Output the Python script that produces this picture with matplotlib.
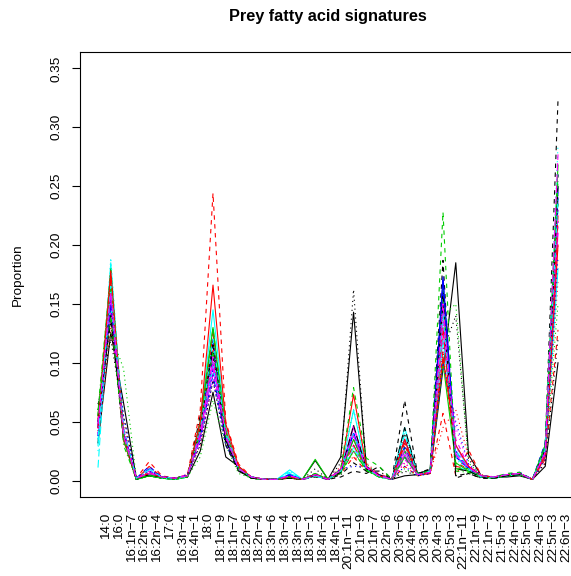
"""
Fatty acid signatures of prey samples drawn as overlaid profiles,
one line per sample, across the fatty acid sequence.
"""
import matplotlib
matplotlib.use("Agg")
import matplotlib.pyplot as plt
from matplotlib.transforms import ScaledTranslation

plt.rcParams["font.family"] = ["Liberation Sans", "DejaVu Sans"]

fatty_acids = ["14:0", "16:0", "16:1n−7", "16:2n−6", "16:2n−4", "17:0", "16:3n−4",
               "16:4n−1", "18:0", "18:1n−9", "18:1n−7", "18:2n−6", "18:2n−4",
               "18:3n−6", "18:3n−4", "18:3n−3", "18:3n−1", "18:4n−3", "18:4n−1",
               "20:1n−11", "20:1n−9", "20:1n−7", "20:2n−6", "20:3n−6", "20:4n−6",
               "20:3n−3", "20:4n−3", "20:5n−3", "22:1n−11", "22:1n−9", "22:1n−7",
               "21:5n−3", "22:4n−6", "22:5n−6", "22:4n−3", "22:5n−3", "22:6n−3"]

# one list per prey sample, same order as fatty_acids
p01 = [0.032, 0.126, 0.066, 0.002, 0.004, 0.003, 0.002, 0.003, 0.025, 0.075, 0.020, 0.012, 0.002,
       0.001, 0.001, 0.002, 0.001, 0.017, 0.001, 0.020, 0.143, 0.012, 0.004, 0.001, 0.004, 0.005,
       0.006, 0.095, 0.185, 0.022, 0.004, 0.003, 0.003, 0.004, 0.001, 0.012, 0.100]
p02 = [0.045, 0.140, 0.035, 0.002, 0.016, 0.004, 0.002, 0.005, 0.060, 0.244, 0.050, 0.014, 0.003,
       0.001, 0.001, 0.002, 0.001, 0.004, 0.001, 0.006, 0.020, 0.008, 0.006, 0.001, 0.012, 0.004,
       0.006, 0.057, 0.004, 0.026, 0.004, 0.003, 0.004, 0.005, 0.001, 0.018, 0.128]
p03 = [0.050, 0.125, 0.095, 0.002, 0.005, 0.003, 0.002, 0.003, 0.020, 0.068, 0.030, 0.006, 0.002,
       0.001, 0.001, 0.002, 0.001, 0.006, 0.001, 0.010, 0.060, 0.014, 0.004, 0.001, 0.010, 0.004,
       0.007, 0.140, 0.150, 0.015, 0.004, 0.003, 0.004, 0.005, 0.001, 0.020, 0.150]
p04 = [0.040, 0.160, 0.040, 0.001, 0.008, 0.003, 0.002, 0.004, 0.035, 0.095, 0.035, 0.010, 0.003,
       0.001, 0.001, 0.004, 0.001, 0.005, 0.001, 0.008, 0.035, 0.010, 0.004, 0.001, 0.025, 0.005,
       0.008, 0.150, 0.030, 0.010, 0.003, 0.003, 0.005, 0.006, 0.001, 0.022, 0.220]
p05 = [0.011, 0.170, 0.045, 0.001, 0.006, 0.002, 0.001, 0.003, 0.045, 0.110, 0.040, 0.011, 0.002,
       0.001, 0.001, 0.006, 0.001, 0.004, 0.001, 0.007, 0.028, 0.009, 0.003, 0.001, 0.030, 0.006,
       0.007, 0.160, 0.012, 0.008, 0.003, 0.002, 0.004, 0.005, 0.001, 0.025, 0.230]
p06 = [0.045, 0.150, 0.035, 0.002, 0.005, 0.003, 0.002, 0.004, 0.040, 0.100, 0.038, 0.010, 0.003,
       0.001, 0.001, 0.003, 0.001, 0.005, 0.001, 0.009, 0.045, 0.011, 0.004, 0.001, 0.022, 0.005,
       0.007, 0.130, 0.020, 0.012, 0.004, 0.003, 0.005, 0.006, 0.001, 0.020, 0.210]
p07 = [0.055, 0.145, 0.035, 0.001, 0.004, 0.002, 0.001, 0.003, 0.045, 0.105, 0.030, 0.008, 0.002,
       0.001, 0.001, 0.002, 0.001, 0.003, 0.001, 0.003, 0.008, 0.006, 0.012, 0.001, 0.068, 0.006,
       0.010, 0.187, 0.002, 0.006, 0.002, 0.002, 0.004, 0.005, 0.001, 0.030, 0.323]
p08 = [0.035, 0.130, 0.050, 0.002, 0.007, 0.003, 0.002, 0.005, 0.030, 0.085, 0.040, 0.012, 0.003,
       0.001, 0.001, 0.003, 0.001, 0.006, 0.001, 0.012, 0.020, 0.015, 0.005, 0.001, 0.015, 0.004,
       0.006, 0.045, 0.060, 0.020, 0.005, 0.003, 0.005, 0.006, 0.001, 0.015, 0.170]
p09 = [0.060, 0.175, 0.030, 0.001, 0.004, 0.002, 0.001, 0.003, 0.050, 0.120, 0.045, 0.009, 0.002,
       0.001, 0.001, 0.003, 0.001, 0.004, 0.001, 0.006, 0.025, 0.008, 0.003, 0.001, 0.028, 0.006,
       0.008, 0.155, 0.008, 0.007, 0.003, 0.002, 0.004, 0.005, 0.001, 0.025, 0.240]
p10 = [0.038, 0.155, 0.040, 0.001, 0.010, 0.003, 0.002, 0.004, 0.038, 0.090, 0.034, 0.010, 0.003,
       0.001, 0.001, 0.005, 0.001, 0.005, 0.001, 0.008, 0.040, 0.010, 0.004, 0.001, 0.020, 0.005,
       0.007, 0.170, 0.025, 0.010, 0.004, 0.003, 0.005, 0.006, 0.001, 0.028, 0.250]
p11 = [0.030, 0.185, 0.038, 0.001, 0.005, 0.002, 0.001, 0.003, 0.050, 0.145, 0.045, 0.011, 0.003,
       0.001, 0.001, 0.009, 0.001, 0.004, 0.001, 0.007, 0.060, 0.010, 0.003, 0.001, 0.045, 0.006,
       0.008, 0.120, 0.030, 0.010, 0.003, 0.002, 0.004, 0.005, 0.001, 0.020, 0.180]
p12 = [0.050, 0.140, 0.042, 0.002, 0.008, 0.003, 0.002, 0.005, 0.035, 0.095, 0.036, 0.010, 0.003,
       0.001, 0.001, 0.004, 0.001, 0.005, 0.001, 0.010, 0.030, 0.012, 0.005, 0.001, 0.018, 0.005,
       0.007, 0.140, 0.035, 0.012, 0.004, 0.003, 0.005, 0.006, 0.001, 0.022, 0.215]
p13 = [0.065, 0.120, 0.055, 0.002, 0.004, 0.003, 0.002, 0.004, 0.030, 0.085, 0.030, 0.010, 0.002,
       0.001, 0.001, 0.002, 0.001, 0.010, 0.001, 0.015, 0.162, 0.010, 0.004, 0.001, 0.008, 0.004,
       0.006, 0.110, 0.140, 0.018, 0.004, 0.003, 0.004, 0.005, 0.001, 0.015, 0.120]
p14 = [0.042, 0.165, 0.036, 0.001, 0.006, 0.003, 0.002, 0.004, 0.042, 0.115, 0.040, 0.010, 0.003,
       0.001, 0.001, 0.003, 0.001, 0.005, 0.001, 0.008, 0.035, 0.010, 0.004, 0.001, 0.030, 0.005,
       0.008, 0.110, 0.015, 0.010, 0.003, 0.003, 0.005, 0.006, 0.001, 0.022, 0.222]
p15 = [0.055, 0.180, 0.040, 0.001, 0.004, 0.002, 0.001, 0.003, 0.048, 0.130, 0.042, 0.009, 0.002,
       0.001, 0.001, 0.003, 0.001, 0.006, 0.001, 0.007, 0.025, 0.009, 0.003, 0.001, 0.025, 0.005,
       0.008, 0.165, 0.010, 0.008, 0.003, 0.002, 0.004, 0.005, 0.001, 0.026, 0.235]
p16 = [0.048, 0.160, 0.038, 0.001, 0.006, 0.003, 0.002, 0.004, 0.040, 0.120, 0.038, 0.010, 0.003,
       0.001, 0.001, 0.004, 0.001, 0.005, 0.001, 0.008, 0.040, 0.010, 0.004, 0.001, 0.035, 0.005,
       0.008, 0.173, 0.020, 0.010, 0.003, 0.003, 0.005, 0.006, 0.001, 0.024, 0.240]
p17 = [0.035, 0.150, 0.040, 0.002, 0.010, 0.003, 0.002, 0.004, 0.040, 0.097, 0.038, 0.010, 0.003,
       0.001, 0.001, 0.007, 0.001, 0.005, 0.001, 0.009, 0.030, 0.011, 0.004, 0.001, 0.025, 0.005,
       0.007, 0.150, 0.025, 0.011, 0.004, 0.003, 0.005, 0.006, 0.001, 0.030, 0.260]
p18 = [0.040, 0.145, 0.045, 0.002, 0.006, 0.003, 0.002, 0.004, 0.035, 0.090, 0.035, 0.010, 0.003,
       0.001, 0.001, 0.003, 0.001, 0.005, 0.001, 0.010, 0.025, 0.012, 0.005, 0.001, 0.015, 0.005,
       0.007, 0.120, 0.045, 0.013, 0.004, 0.003, 0.005, 0.006, 0.001, 0.020, 0.200]
p19 = [0.060, 0.135, 0.040, 0.001, 0.004, 0.002, 0.001, 0.003, 0.055, 0.110, 0.032, 0.008, 0.002,
       0.001, 0.001, 0.002, 0.001, 0.004, 0.001, 0.005, 0.015, 0.008, 0.008, 0.001, 0.040, 0.006,
       0.009, 0.160, 0.004, 0.006, 0.002, 0.002, 0.004, 0.005, 0.001, 0.028, 0.260]
p20 = [0.052, 0.170, 0.034, 0.001, 0.012, 0.003, 0.002, 0.004, 0.045, 0.125, 0.042, 0.011, 0.003,
       0.001, 0.001, 0.003, 0.001, 0.005, 0.001, 0.008, 0.030, 0.010, 0.004, 0.001, 0.032, 0.005,
       0.008, 0.130, 0.012, 0.010, 0.003, 0.003, 0.005, 0.006, 0.001, 0.024, 0.225]
p21 = [0.055, 0.165, 0.035, 0.001, 0.004, 0.002, 0.001, 0.003, 0.050, 0.130, 0.040, 0.010, 0.002,
       0.001, 0.001, 0.003, 0.001, 0.018, 0.001, 0.007, 0.035, 0.009, 0.003, 0.001, 0.020, 0.005,
       0.008, 0.100, 0.015, 0.008, 0.003, 0.002, 0.004, 0.005, 0.001, 0.030, 0.268]
p22 = [0.045, 0.150, 0.042, 0.002, 0.012, 0.003, 0.002, 0.004, 0.038, 0.105, 0.036, 0.010, 0.003,
       0.001, 0.001, 0.005, 0.001, 0.005, 0.001, 0.009, 0.040, 0.011, 0.004, 0.001, 0.028, 0.005,
       0.007, 0.165, 0.022, 0.011, 0.004, 0.003, 0.005, 0.007, 0.001, 0.032, 0.245]
p23 = [0.025, 0.189, 0.040, 0.001, 0.006, 0.002, 0.001, 0.003, 0.045, 0.100, 0.040, 0.010, 0.003,
       0.001, 0.001, 0.006, 0.001, 0.004, 0.001, 0.008, 0.028, 0.010, 0.003, 0.001, 0.038, 0.005,
       0.008, 0.145, 0.018, 0.009, 0.003, 0.002, 0.004, 0.005, 0.001, 0.028, 0.285]
p24 = [0.040, 0.155, 0.040, 0.002, 0.007, 0.003, 0.002, 0.004, 0.038, 0.100, 0.038, 0.010, 0.003,
       0.001, 0.001, 0.004, 0.001, 0.005, 0.001, 0.009, 0.047, 0.011, 0.004, 0.001, 0.022, 0.005,
       0.007, 0.135, 0.028, 0.012, 0.004, 0.003, 0.005, 0.006, 0.001, 0.022, 0.230]
p25 = [0.050, 0.140, 0.038, 0.001, 0.005, 0.003, 0.002, 0.004, 0.042, 0.115, 0.034, 0.009, 0.002,
       0.001, 0.001, 0.003, 0.001, 0.005, 0.001, 0.007, 0.047, 0.010, 0.005, 0.001, 0.045, 0.006,
       0.009, 0.150, 0.010, 0.008, 0.003, 0.002, 0.004, 0.005, 0.001, 0.026, 0.250]
p26 = [0.045, 0.178, 0.038, 0.002, 0.006, 0.003, 0.002, 0.004, 0.050, 0.166, 0.048, 0.012, 0.003,
       0.001, 0.001, 0.003, 0.001, 0.005, 0.001, 0.009, 0.073, 0.012, 0.004, 0.001, 0.035, 0.005,
       0.007, 0.105, 0.030, 0.012, 0.004, 0.003, 0.005, 0.006, 0.001, 0.020, 0.200]
p27 = [0.060, 0.140, 0.036, 0.001, 0.005, 0.003, 0.002, 0.004, 0.040, 0.110, 0.038, 0.010, 0.003,
       0.001, 0.001, 0.003, 0.001, 0.006, 0.001, 0.010, 0.079, 0.019, 0.012, 0.001, 0.025, 0.006,
       0.008, 0.228, 0.010, 0.010, 0.004, 0.003, 0.006, 0.007, 0.001, 0.030, 0.255]
p28 = [0.038, 0.150, 0.055, 0.002, 0.008, 0.003, 0.002, 0.005, 0.032, 0.085, 0.030, 0.010, 0.003,
       0.001, 0.001, 0.004, 0.001, 0.005, 0.001, 0.010, 0.012, 0.012, 0.005, 0.001, 0.012, 0.004,
       0.006, 0.100, 0.050, 0.014, 0.004, 0.003, 0.005, 0.006, 0.001, 0.018, 0.190]
p29 = [0.035, 0.165, 0.042, 0.002, 0.009, 0.003, 0.002, 0.004, 0.042, 0.120, 0.040, 0.010, 0.003,
       0.001, 0.001, 0.008, 0.001, 0.004, 0.001, 0.008, 0.040, 0.010, 0.004, 0.001, 0.040, 0.005,
       0.008, 0.140, 0.020, 0.010, 0.003, 0.003, 0.005, 0.006, 0.001, 0.026, 0.240]
p30 = [0.048, 0.160, 0.038, 0.002, 0.006, 0.003, 0.002, 0.004, 0.040, 0.105, 0.038, 0.010, 0.003,
       0.001, 0.001, 0.004, 0.001, 0.005, 0.001, 0.009, 0.038, 0.011, 0.004, 0.001, 0.026, 0.005,
       0.007, 0.150, 0.022, 0.011, 0.004, 0.003, 0.005, 0.006, 0.001, 0.024, 0.277]

samples = [p01, p02, p03, p04, p05, p06, p07, p08, p09, p10, p11, p12, p13, p14, p15,
           p16, p17, p18, p19, p20, p21, p22, p23, p24, p25, p26, p27, p28, p29, p30]

y_ticks = [0.00, 0.05, 0.10, 0.15, 0.20, 0.25, 0.30, 0.35]

# colours and line types recycled like R's matplot
colours = ["black", "red", "#00CD00", "blue", "cyan", "magenta"]
line_types = ["-", (0, (4, 4)), (0, (1, 3)), (0, (1, 3, 4, 3)), (0, (7, 3))]

fig = plt.figure(figsize=(5.71, 5.76), dpi=100)
W, H = 571, 576
# plot box runs a little past the right edge of the canvas
ax = fig.add_axes([79.6 / W, (H - 497) / H, (576.4 - 79.6) / W, (497 - 52) / H])

x = list(range(1, len(fatty_acids) + 1))
for i, s in enumerate(samples):
    ax.plot(x, s, color=colours[i % 6], linestyle=line_types[i % 5], linewidth=0.8)

ax.set_xlim(1 - 0.04 * 36, 37 + 0.04 * 36)
ax.set_ylim(-0.04 * 0.35, 0.35 * 1.04)

for sp in ax.spines.values():
    sp.set_linewidth(0.8)
    sp.set_color("black")
ax.spines["right"].set_visible(False)

ax.set_yticks(y_ticks)
ax.set_yticklabels([f"{v:.2f}" for v in y_ticks], rotation=90, va="center", fontsize=9.7)
ax.tick_params(axis="y", length=5.8, width=0.8, pad=6.5)

ax.set_xticks(x)
ax.set_xticklabels(fatty_acids, rotation=90, fontsize=9.7)
ax.tick_params(axis="x", length=0, pad=11.5)
shift = ScaledTranslation(8 / 100, 0, fig.dpi_scale_trans)
for lab in ax.get_xticklabels():
    lab.set_transform(lab.get_transform() + shift)

fig.text(328 / W, 1 - 17 / H, "Prey fatty acid signatures", ha="center", va="center",
         fontsize=11.7, fontweight="bold")
fig.text(18 / W, 1 - 274.5 / H, "Proportion", rotation=90, ha="center", va="center",
         fontsize=9.7)

fig.savefig("out.png", dpi=100)
